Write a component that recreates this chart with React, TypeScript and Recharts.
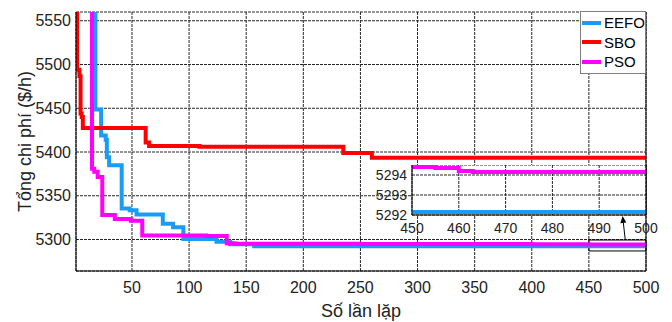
import React from 'react'
import {
  LineChart,
  Line,
  XAxis,
  YAxis,
  CartesianGrid,
  Legend,
  ReferenceLine,
  ReferenceArea
} from 'recharts'

// iteration -> best cost ($/h) (stepwise)
const EEFO_ITER = [1, 18, 23, 27, 28, 30, 41, 48, 54, 77, 86, 95, 124, 136, 157, 300, 500]
const EEFO_COST = [5900, 5448.6, 5419, 5414, 5394, 5385, 5335.5, 5333.5, 5328.5, 5318, 5314, 5300.5, 5297.5, 5294.5, 5292.3, 5292.15, 5292.1]

const SBO_ITER = [1, 2, 4, 5, 6, 7, 62, 65, 109, 235, 260, 500]
const SBO_COST = [5900, 5494, 5487, 5444, 5440, 5427.5, 5411, 5407, 5406, 5399, 5393.3, 5393.3]

const PSO_ITER = [1, 15, 17, 20, 24, 35, 49, 59, 115, 133, 140, 250, 400, 450, 455, 460, 463, 500]
const PSO_COST = [5900, 5381, 5377.5, 5371.5, 5328, 5323.5, 5321.5, 5304.5, 5304, 5295.8, 5295.2, 5294.8, 5294.5, 5294.4, 5294.35, 5294.2, 5294.15, 5294.15]

const X_TICKS = [50, 100, 150, 200, 250, 300, 350, 400, 450, 500]
const Y_TICKS = [5300, 5350, 5400, 5450, 5500, 5550]
const ZOOM_X_TICKS = [450, 460, 470, 480, 490, 500]
const ZOOM_Y_TICKS = [5292, 5293, 5294]

// zoom window marked on the main plot and the arrow pointing to the inset
const ZOOM_BOX_COST = [5286.9, 5299.4]
const ARROW_ITER = [481.8, 479.5]
const ARROW_COST = [5300, 5327]

const FONT = '"Liberation Sans", Arial, sans-serif'
const GRID = '#262626'

const toPoints = (iters: number[], costs: number[]) =>
  iters.map((it, i) => ({ it, cost: costs[i] }))

const SERIES = [
  { name: 'EEFO', color: '#1a9cf5', data: toPoints(EEFO_ITER, EEFO_COST) },
  { name: 'SBO', color: '#ff0000', data: toPoints(SBO_ITER, SBO_COST) },
  { name: 'PSO', color: '#ff00ff', data: toPoints(PSO_ITER, PSO_COST) }
]

const Arrow = (props: any) => {
  const { x1, y1, x2, y2 } = props
  const ang = Math.atan2(y2 - y1, x2 - x1)
  const len = 7
  const w = 3
  const bx = x2 - len * Math.cos(ang)
  const by = y2 - len * Math.sin(ang)
  const px = -Math.sin(ang) * w
  const py = Math.cos(ang) * w
  return (
    <g>
      <line x1={x1} y1={y1} x2={bx} y2={by} stroke="#000" strokeWidth={1} />
      <polygon points={`${x2},${y2} ${bx + px},${by + py} ${bx - px},${by - py}`} fill="#000" />
    </g>
  )
}

const LegendBox = () => (
  <div
    style={{
      border: '1px solid #7f7f7f',
      background: '#fff',
      width: 66,
      boxSizing: 'border-box',
      padding: '1px 0 1px 0',
      fontFamily: FONT
    }}
  >
    {SERIES.map((s) => (
      <div key={s.name} style={{ display: 'flex', alignItems: 'center', height: 19.5 }}>
        <span style={{ display: 'inline-block', width: 19, height: 4, background: s.color, marginLeft: 1, marginRight: 3 }} />
        <span style={{ fontSize: 15, color: '#000' }}>{s.name}</span>
      </div>
    ))}
  </div>
)

export default function App() {
  return (
    <div style={{ position: 'absolute', left: 0, top: 0, width: 672, height: 322, background: '#fff', fontFamily: FONT }}>
      <LineChart width={672} height={322} margin={{ top: 12, right: 26, bottom: 0, left: 0 }}>
        <CartesianGrid stroke={GRID} strokeDasharray="3 1" />
        <XAxis
          dataKey="it"
          type="number"
          domain={[1, 500]}
          ticks={X_TICKS}
          interval={0}
          allowDataOverflow
          height={51}
          tickLine={false}
          tickSize={0}
          tickMargin={11}
          axisLine={{ stroke: '#000' }}
          tick={{ fill: '#222', fontSize: 16, fontFamily: FONT }}
          label={{
            content: ({ viewBox }: any) => (
              <text
                x={viewBox.x + viewBox.width / 2}
                y={viewBox.y + 46}
                textAnchor="middle"
                fontSize={18}
                fill="#222"
                fontFamily={FONT}
              >
                Số lần lặp
              </text>
            )
          }}
        />
        <YAxis
          type="number"
          domain={[5264, 5560]}
          ticks={Y_TICKS}
          interval={0}
          allowDataOverflow
          width={76}
          tickLine={false}
          tickSize={0}
          tickMargin={5}
          axisLine={{ stroke: '#000' }}
          tick={{ fill: '#222', fontSize: 16, fontFamily: FONT }}
          label={{
            content: ({ viewBox }: any) => {
              const cx = viewBox.x + 24.5
              const cy = viewBox.y + viewBox.height / 2
              return (
                <text
                  x={cx}
                  y={cy}
                  transform={`rotate(-90 ${cx} ${cy})`}
                  textAnchor="middle"
                  dominantBaseline="central"
                  fontSize={18}
                  fill="#222"
                  fontFamily={FONT}
                >
                  Tổng chi phí ($/h)
                </text>
              )
            }
          }}
        />
        {SERIES.map((s) => (
          <Line
            key={s.name}
            name={s.name}
            data={s.data}
            dataKey="cost"
            type="stepAfter"
            stroke={s.color}
            strokeWidth={4}
            dot={false}
            activeDot={false}
            isAnimationActive={false}
          />
        ))}
        <ReferenceLine x={500} stroke="#000" strokeWidth={1} />
        <ReferenceArea
          x1={450}
          x2={500}
          y1={ZOOM_BOX_COST[0]}
          y2={ZOOM_BOX_COST[1]}
          fill="none"
          fillOpacity={0}
          stroke="#000"
          strokeWidth={1}
        />
        <ReferenceLine
          segment={[
            { x: ARROW_ITER[0], y: ARROW_COST[0] },
            { x: ARROW_ITER[1], y: ARROW_COST[1] }
          ]}
          shape={Arrow}
        />
        <Legend
          layout="vertical"
          align="center"
          verticalAlign="middle"
          wrapperStyle={{ left: 580, top: 11, width: 66 }}
          content={() => <LegendBox />}
        />
      </LineChart>

      <div style={{ position: 'absolute', left: 362, top: 165 }}>
        <LineChart width={300} height={74} margin={{ top: 0, right: 16, bottom: 0, left: 0 }}>
          <CartesianGrid fill="#fff" stroke={GRID} strokeDasharray="3 1" />
          <XAxis
            dataKey="it"
            type="number"
            domain={[450, 500]}
            ticks={ZOOM_X_TICKS}
            interval={0}
            allowDataOverflow
            height={24}
            tickLine={false}
            tickSize={0}
            tickMargin={8}
            axisLine={{ stroke: '#000' }}
            tick={{ fill: '#222', fontSize: 14, fontFamily: FONT }}
          />
          <YAxis
            type="number"
            domain={[5292, 5294.5]}
            ticks={ZOOM_Y_TICKS}
            interval={0}
            allowDataOverflow
            width={50}
            tickLine={false}
            tickSize={0}
            tickMargin={5}
            axisLine={{ stroke: '#000' }}
            tick={{ fill: '#222', fontSize: 14, fontFamily: FONT }}
          />
          {SERIES.map((s) => (
            <Line
              key={s.name}
              name={s.name}
              data={s.data}
              dataKey="cost"
              type="stepAfter"
              stroke={s.color}
              strokeWidth={4}
              dot={false}
              activeDot={false}
              isAnimationActive={false}
            />
          ))}
          <ReferenceLine x={500} stroke="#000" strokeWidth={1} />
        </LineChart>
      </div>
    </div>
  )
}
